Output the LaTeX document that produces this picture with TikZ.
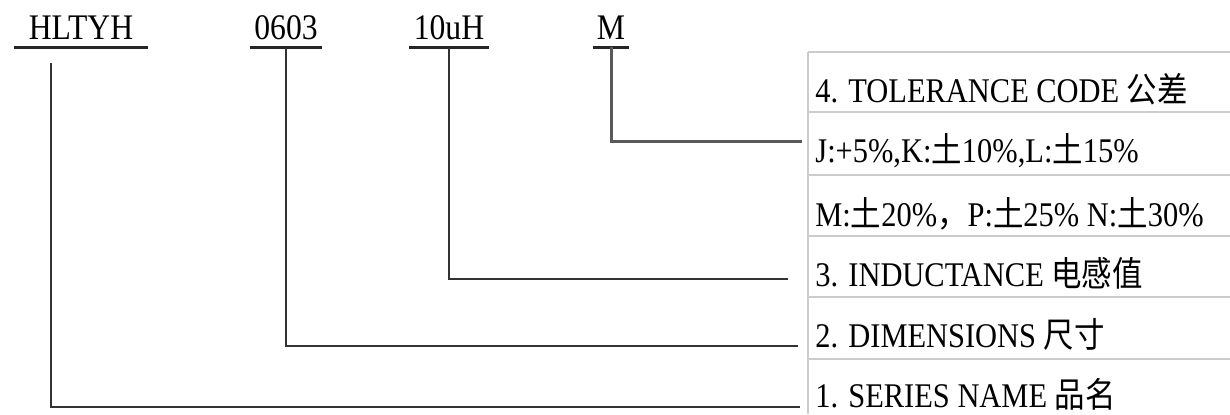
\documentclass[tikz,border=0pt]{standalone}
\usepackage{fontspec}
\setmainfont{Liberation Serif}
\newfontfamily\cjk{Noto Sans CJK SC}
\newcommand{\tu}{{\cjk 土}}
\newcommand{\narrow}[1]{\scalebox{0.88}[1]{#1}}
\usetikzlibrary{positioning}
\begin{document}
\begin{tikzpicture}[x=0.5pt,y=-0.5pt,
    partcode/.style={anchor=base,inner xsep=2pt,inner ysep=4pt,font=\fontsize{18}{20}\selectfont},
    rowtext/.style={anchor=base west,inner sep=0pt,font=\fontsize{17.3}{20}\selectfont},
    uline/.style={line width=1.6pt,black!85},
    lead/.style={line width=1.2pt,black!80},
    grid/.style={line width=0.7pt,gray!40}]
  \useasboundingbox (0,0) rectangle (1230,414);
    %Codigo da peca
  \node[partcode,inner xsep=7pt] (ser) at (81,39) {\narrow{HLTYH}};
  \node[partcode] (dim) at (286,39) {\narrow{0603}};
  \node[partcode] (ind) at (449,39) {\narrow{10uH}};
  \node[partcode] (tol) at (611,39) {\narrow{M}};
  \draw[uline] (ser.south west) -- (ser.south east);
  \draw[uline] (dim.south west) -- (dim.south east);
  \draw[uline] (ind.south west) -- (ind.south east);
  \draw[uline] (tol.south west) -- (tol.south east);
    %Tabela
  \draw[grid] (808,52) -- (808,414);
  \foreach \y in {52,112,175,236,297,359}
    \draw[grid] (808,\y) -- (1230,\y);
  \node[rowtext] (tolhead) at (815,102) {\narrow{4. TOLERANCE CODE {\cjk 公差}}};
  \node[rowtext] (tola) at (815,162) {\narrow{J:+5\%,K:\tu10\%,L:\tu15\%}};
  \node[rowtext] (tolb) at (815,226) {\narrow{M:\tu20\%{\cjk ，}P:\tu25\% N:\tu30\%}};
  \node[rowtext] (indrow) at (815,286) {\narrow{3. INDUCTANCE {\cjk 电感值}}};
  \node[rowtext] (dimrow) at (815,347) {\narrow{2. DIMENSIONS {\cjk 尺寸}}};
  \node[rowtext] (serrow) at (815,407) {\narrow{1. SERIES NAME {\cjk 品名}}};
    %Linhas de ligacao
  \coordinate (sertop) at (51,63);
  \coordinate (serend) at (800,407);
  \coordinate (dimend) at (798,346);
  \coordinate (indend) at (788,279);
  \coordinate (tolend) at (802,141);
  \draw[lead] (sertop) |- (serend);
  \draw[lead] (dim.south) |- (dimend);
  \draw[lead] (ind.south) |- (indend);
  \draw[lead,line width=1.5pt,black!65] (tol.south) |- (tolend);
\end{tikzpicture}
\end{document}
